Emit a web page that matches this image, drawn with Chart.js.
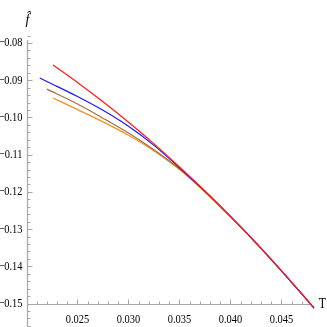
<!DOCTYPE html>
<html>
<head>
<meta charset="utf-8">
<script src="https://cdn.jsdelivr.net/npm/chart.js@4/dist/chart.umd.min.js"></script>
<style>
  body { margin: 0; background: #fff; }
  #grafico { display: block; }
</style>
</head>
<body>
<canvas id="grafico" width="327" height="327"></canvas>
<script>
// Curvas f^(T)
const rojoT = [0.0226, 0.025, 0.0275, 0.030, 0.0325, 0.035, 0.0375, 0.040, 0.0425, 0.045, 0.0475, 0.0482];
const rojoF = [-0.0859, -0.0906, -0.0958, -0.1013, -0.1071, -0.1133, -0.1198, -0.1266, -0.1337, -0.1412, -0.1490, -0.1512];

const azulT = [0.0213, 0.0225, 0.025, 0.0275, 0.030, 0.0325, 0.035, 0.0375, 0.040, 0.0425, 0.045, 0.0475, 0.0482];
const azulF = [-0.0894, -0.0910, -0.0944, -0.0981, -0.1024, -0.1075, -0.1135, -0.1198, -0.1266, -0.1337, -0.1412, -0.1490, -0.1512];

const marronT = [0.0220, 0.025, 0.0275, 0.030, 0.0325, 0.035, 0.0375, 0.040, 0.0425, 0.045, 0.0475, 0.0482];
const marronF = [-0.0924, -0.0964, -0.1002, -0.1042, -0.1087, -0.1138, -0.1199, -0.1266, -0.1337, -0.1412, -0.1490, -0.1512];

const naranjaT = [0.0226, 0.025, 0.0275, 0.030, 0.0325, 0.035, 0.0375, 0.040, 0.0425, 0.045, 0.0475, 0.0482];
const naranjaF = [-0.0948, -0.0979, -0.1012, -0.1048, -0.1090, -0.1140, -0.1201, -0.1268, -0.1338, -0.1412, -0.1490, -0.1512];

// Marcas de los ejes
const xTicks = [0.025, 0.030, 0.035, 0.040, 0.045];
const xTickLabels = ['0.025', '0.030', '0.035', '0.040', '0.045'];
const yTicks = [-0.08, -0.09, -0.10, -0.11, -0.12, -0.13, -0.14, -0.15];
const yTickLabels = ['\u22120.08', '\u22120.09', '\u22120.10', '\u22120.11', '\u22120.12', '\u22120.13', '\u22120.14', '\u22120.15'];

const puntos = (ts, fs) => ts.map((t, i) => ({ x: t, y: fs[i] }));

const colorEje = '#a6a6a6';
const fuente = '"Liberation Serif", "DejaVu Serif", serif';

function texto(ctx, s, x, y, align, escala) {
    ctx.save();
    ctx.translate(x, y);
    ctx.scale(escala, 1);
    ctx.textAlign = align;
    ctx.fillText(s, 0, 0);
    ctx.restore();
}

// Ejes estilo Mathematica: cruzan en (xmin, -0.15), marcas hacia dentro
const ejes = {
    id: 'ejes',
    beforeDatasetsDraw(chart) {
        const ctx = chart.ctx;
        const xs = chart.scales.x, ys = chart.scales.y;
        const area = chart.chartArea;
        const x0 = Math.round(area.left) + 0.5;
        const y0 = Math.round(ys.getPixelForValue(-0.15)) + 0.5;
        ctx.save();
        ctx.strokeStyle = colorEje;
        ctx.lineWidth = 1.2;
        ctx.beginPath();
        ctx.moveTo(x0, area.top);
        ctx.lineTo(x0, area.bottom);
        ctx.moveTo(x0, y0);
        ctx.lineTo(area.right - 3, y0);
        ctx.stroke();

        ctx.lineWidth = 1;
        ctx.beginPath();
        // marcas menores del eje x cada 0.001
        for (let k = 21; k <= 47; k++) {
            const px = Math.round(xs.getPixelForValue(k / 1000)) + 0.5;
            const largo = k % 5 === 0 ? 5 : 3;
            ctx.moveTo(px, y0);
            ctx.lineTo(px, y0 - largo);
        }
        // marcas del eje y cada 0.002
        for (let k = -78; k >= -156; k -= 2) {
            const py = Math.round(ys.getPixelForValue(k / 1000)) + 0.5;
            const largo = k % 10 === 0 ? 5 : 3;
            ctx.moveTo(x0, py);
            ctx.lineTo(x0 + largo, py);
        }
        ctx.stroke();

        ctx.fillStyle = '#000';
        ctx.font = '13px ' + fuente;
        ctx.textBaseline = 'middle';
        xTicks.forEach((v, i) => {
            texto(ctx, xTickLabels[i], xs.getPixelForValue(v), y0 + 15, 'center', 0.8);
        });
        yTicks.forEach((v, i) => {
            texto(ctx, yTickLabels[i], x0 - 5, ys.getPixelForValue(v), 'right', 0.8);
        });

        // nombres de los ejes
        ctx.font = '14px ' + fuente;
        texto(ctx, 'T', area.right + 8, y0, 'center', 0.85);
        ctx.font = 'italic 14px ' + fuente;
        texto(ctx, 'f\u0302', x0, 20, 'center', 1);
        ctx.restore();
    }
};

const ctx = document.getElementById('grafico').getContext('2d');
new Chart(ctx, {
    type: 'line',
    data: {
        datasets: [
            { label: 'rojo', data: puntos(rojoT, rojoF), borderColor: '#ff1a1a', order: 1 },
            { label: 'azul', data: puntos(azulT, azulF), borderColor: '#1a1aff', order: 2 },
            { label: 'marron', data: puntos(marronT, marronF), borderColor: '#a0703f', order: 3 },
            { label: 'naranja', data: puntos(naranjaT, naranjaF), borderColor: '#ff8c1a', order: 4 }
        ]
    },
    options: {
        responsive: false,
        animation: false,
        events: [],
        layout: { padding: { left: 27, right: 12.5, top: 40, bottom: 0 } },
        elements: {
            point: { radius: 0 },
            line: { borderWidth: 1.2, cubicInterpolationMode: 'monotone', fill: false }
        },
        scales: {
            x: { type: 'linear', min: 0.02005, max: 0.04824, display: false },
            y: { type: 'linear', min: -0.1563, max: -0.0792, display: false }
        },
        plugins: {
            legend: { display: false },
            tooltip: { enabled: false }
        }
    },
    plugins: [ejes]
});
</script>
</body>
</html>
